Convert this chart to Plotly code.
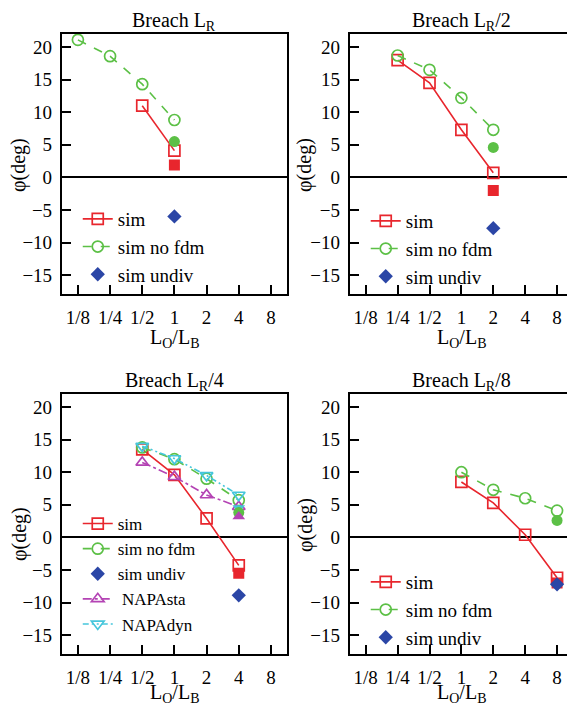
import math
import plotly.graph_objects as go

# ---------------- data ----------------
tick_vals = [0.125, 0.25, 0.5, 1, 2, 4, 8]
tick_text = ["1/8", "1/4", "1/2", "1", "2", "4", "8"]
y_ticks = [20, 15, 10, 5, 0, -5, -10, -15]
titles = ["Breach L<sub>R</sub>", "Breach L<sub>R</sub>/2",
          "Breach L<sub>R</sub>/4", "Breach L<sub>R</sub>/8"]

# panel 1 : Breach LR
p1_sim_x = [0.5, 1]
p1_sim_y = [11.0, 4.1]
p1_nofdm_x = [0.125, 0.25, 0.5, 1]
p1_nofdm_y = [21.1, 18.6, 14.3, 8.8]
p1_sim_f = ([1], [1.9])
p1_nofdm_f = ([1], [5.5])
p1_undiv = ([1], [-6.0])

# panel 2 : Breach LR/2
p2_x = [0.25, 0.5, 1, 2]
p2_sim_y = [18.0, 14.5, 7.3, 0.7]
p2_nofdm_y = [18.7, 16.5, 12.2, 7.3]
p2_sim_f = ([2], [-2.0])
p2_nofdm_f = ([2], [4.6])
p2_undiv = ([2], [-7.8])

# panel 3 : Breach LR/4
p3_x = [0.5, 1, 2, 4]
p3_sim_y = [13.5, 9.6, 2.9, -4.3]
p3_nofdm_y = [13.8, 12.0, 9.0, 5.7]
p3_sta_y = [11.5, 9.3, 6.5, 4.7]
p3_dyn_y = [14.0, 12.1, 9.5, 6.5]
p3_sim_f = ([4], [-5.5])
p3_nofdm_f = ([4], [3.8])
p3_sta_f = ([4], [3.2])
p3_dyn_f = ([4], [4.5])
p3_undiv = ([4], [-8.9])

# panel 4 : Breach LR/8
p4_x = [1, 2, 4, 8]
p4_sim_y = [8.5, 5.3, 0.4, -6.2]
p4_nofdm_y = [10.0, 7.3, 6.0, 4.1]
p4_sim_f = ([8], [-7.0])
p4_nofdm_f = ([8], [2.6])
p4_undiv = ([8], [-7.2])

# ---------------- styles ----------------
RED = "#e8262d"
GREEN = "#5cc046"
BLUE = "#2b46a6"
MAG = "#b443b4"
CYAN = "#45c6dc"
FONT = "Liberation Serif"

# the page body has an 8px margin: figure is drawn at (8, 8) in the window
OFF = 8
W, H = 575 - OFF, 709 - OFF

def px(sx):
    return (sx - OFF) / W

def py(sy):
    return 1 - (sy - OFF) / H

# panel boxes in window pixels (left, right, top, bottom)
boxes = [(62, 288, 34, 294), (351, 575, 34, 294),
         (62, 288, 394, 654), (351, 575, 394, 654)]

fig = go.Figure()

def open_line(x, y, name, color, symbol, dash, axis, legend):
    fig.add_trace(go.Scatter(
        x=x, y=y, name=name, mode="lines+markers",
        line=dict(color=color, width=1.6, dash=dash),
        marker=dict(symbol=symbol, size=11, color=color,
                    line=dict(color=color, width=1.7)),
        xaxis="x" + axis, yaxis="y" + axis, legend=legend,
        legendgroup=legend + name))

def filled(pt, color, symbol, axis, size=11):
    fig.add_trace(go.Scatter(
        x=pt[0], y=pt[1], mode="markers", showlegend=False,
        marker=dict(symbol=symbol, size=size, color=color,
                    line=dict(width=0)),
        xaxis="x" + axis, yaxis="y" + axis))

def undiv(pt, axis, legend):
    fig.add_trace(go.Scatter(
        x=pt[0], y=pt[1], mode="markers", name="sim undiv",
        marker=dict(symbol="diamond", size=11, color=BLUE,
                    line=dict(width=0)),
        xaxis="x" + axis, yaxis="y" + axis, legend=legend,
        legendgroup=legend + "undiv"))

# panel 1
filled(p1_sim_f, RED, "square", "")
open_line(p1_sim_x, p1_sim_y, "sim", RED, "square-open", "solid", "", "legend")
open_line(p1_nofdm_x, p1_nofdm_y, "sim no fdm", GREEN, "circle-open", "dash", "", "legend")
filled(p1_nofdm_f, GREEN, "circle", "")
undiv(p1_undiv, "", "legend")

# panel 2
filled(p2_sim_f, RED, "square", "2")
open_line(p2_x, p2_sim_y, "sim", RED, "square-open", "solid", "2", "legend2")
open_line(p2_x, p2_nofdm_y, "sim no fdm", GREEN, "circle-open", "dash", "2", "legend2")
filled(p2_nofdm_f, GREEN, "circle", "2")
undiv(p2_undiv, "2", "legend2")

# panel 3
filled(p3_sim_f, RED, "square", "3")
open_line(p3_x, p3_sim_y, "sim", RED, "square-open", "solid", "3", "legend3")
open_line(p3_x, p3_nofdm_y, "sim no fdm", GREEN, "circle-open", "dash", "3", "legend3")
undiv(p3_undiv, "3", "legend3")
open_line(p3_x, p3_sta_y, " NAPAsta", MAG, "triangle-up-open", "dashdot", "3", "legend3")
open_line(p3_x, p3_dyn_y, " NAPAdyn", CYAN, "triangle-down-open", "6px,3px,2px,3px,2px,3px", "3", "legend3")
filled(p3_dyn_f, CYAN, "triangle-down", "3")
filled(p3_nofdm_f, GREEN, "circle", "3")
filled(p3_sta_f, MAG, "triangle-up", "3")

# panel 4
filled(p4_sim_f, RED, "square", "4")
open_line(p4_x, p4_sim_y, "sim", RED, "square-open", "solid", "4", "legend4")
open_line(p4_x, p4_nofdm_y, "sim no fdm", GREEN, "circle-open", "dash", "4", "legend4")
filled(p4_nofdm_f, GREEN, "circle", "4")
undiv(p4_undiv, "4", "legend4")

xr = [math.log10(2 ** -3.5), math.log10(2 ** 3.5)]
yr = [-17.9, 22.0]

layout = dict(
    width=W, height=H, margin=dict(l=0, r=0, t=0, b=0),
    paper_bgcolor="white", plot_bgcolor="white",
    font=dict(family=FONT, size=19, color="black"),
    annotations=[],
)

legend_top = [(70, 200), (359, 202), (70, 506), (359, 563)]
legend_font = [19, 19, 17, 19]
title_y = [22, 22, 382, 382]
xtitle_y = [338, 338, 693, 693]
ytitle = [(19, 165), (306, 165), (19, 534), (306, 525)]

for i, (l, r, t, b) in enumerate(boxes):
    sfx = "" if i == 0 else str(i + 1)
    ax = "x" + sfx
    ay = "y" + sfx
    layout["xaxis" + sfx] = dict(
        domain=[px(l), min(px(r), 1.0)], anchor=ay, type="log", range=xr,
        tickvals=tick_vals, ticktext=tick_text, ticks="inside",
        ticklen=9, tickwidth=1.5, tickcolor="black",
        showline=True, linecolor="black", linewidth=1.8, mirror=True,
        showgrid=False, zeroline=False, ticklabelstandoff=5,
        tickfont=dict(family=FONT, size=19),
    )
    layout["yaxis" + sfx] = dict(
        domain=[py(b), py(t)], anchor=ax, range=yr,
        tickvals=y_ticks, ticks="inside", ticklen=9, tickwidth=1.5,
        tickcolor="black", showline=True, linecolor="black",
        linewidth=1.8, mirror=True, showgrid=False,
        zeroline=True, zerolinecolor="black", zerolinewidth=1.8,
        ticklabelstandoff=4, tickfont=dict(family=FONT, size=19),
    )
    # panel title
    layout["annotations"].append(dict(
        text=titles[i], x=px((l + r) / 2), y=py(title_y[i]),
        xref="paper", yref="paper", xanchor="center", yanchor="middle",
        showarrow=False, font=dict(family=FONT, size=20)))
    # x-axis title
    layout["annotations"].append(dict(
        text="L<sub>O</sub>/L<sub>B</sub>", x=px((l + r) / 2),
        y=py(xtitle_y[i]), xref="paper", yref="paper",
        xanchor="center", yanchor="middle", showarrow=False,
        font=dict(family=FONT, size=20)))
    # y-axis title
    tx, ty = ytitle[i]
    layout["annotations"].append(dict(
        text="φ(deg)", x=px(tx), y=py(ty),
        xref="paper", yref="paper", xanchor="center", yanchor="middle",
        textangle=-90, showarrow=False, font=dict(family=FONT, size=20)))
    lx, ly = legend_top[i]
    lname = "legend" if i == 0 else "legend" + str(i + 1)
    layout[lname] = dict(
        x=px(lx + 8), y=py(ly), xanchor="left", yanchor="top",
        bgcolor="rgba(0,0,0,0)", borderwidth=0,
        font=dict(family=FONT, size=legend_font[i]), tracegroupgap=0,
        traceorder="grouped", itemwidth=30)

fig.update_layout(**layout)
fig.write_html("out.html")
